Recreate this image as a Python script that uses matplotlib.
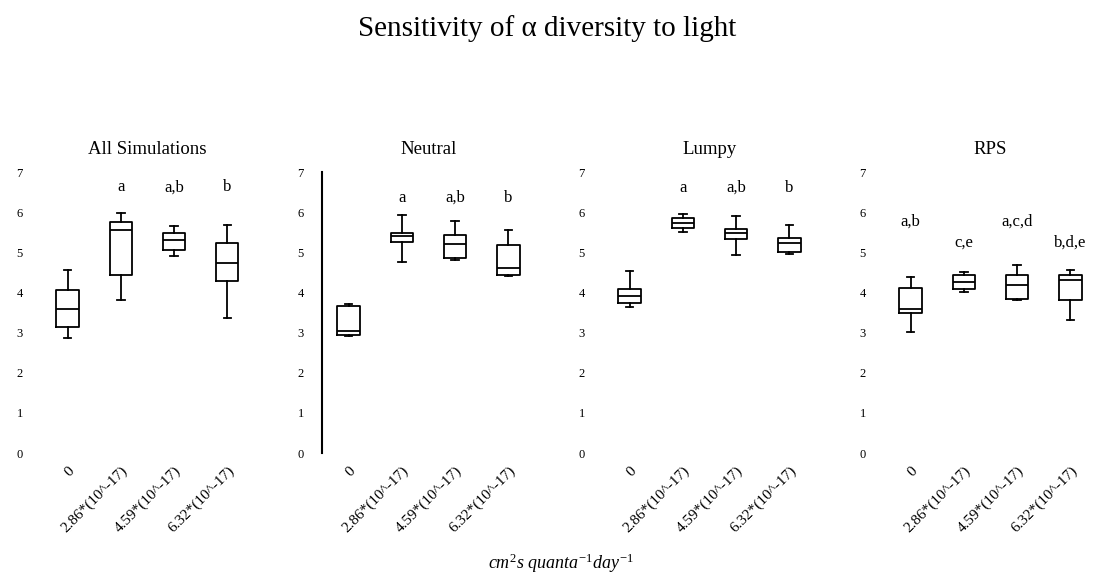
import matplotlib
matplotlib.use("Agg")
import matplotlib.pyplot as plt

plt.rcParams['font.family'] = ['Liberation Serif', 'DejaVu Serif']
plt.rcParams['mathtext.fontset'] = 'custom'
plt.rcParams['mathtext.rm'] = 'Liberation Serif'
plt.rcParams['mathtext.it'] = 'Liberation Serif:italic'

panels = ["All Simulations", "Neutral", "Lumpy", "RPS"]
light_levels = ["0", "2.86*(10^-17)", "4.59*(10^-17)", "6.32*(10^-17)"]

# box summaries per light level: whisker low, q1, median, q3, whisker high
all_sims = [[2.87, 3.15, 3.60, 4.06, 4.56],
            [3.82, 4.44, 5.55, 5.76, 5.98],
            [4.90, 5.06, 5.30, 5.49, 5.65],
            [3.37, 4.29, 4.74, 5.24, 5.69]]
neutral = [[2.91, 2.95, 3.03, 3.67, 3.72],
           [4.76, 5.26, 5.40, 5.49, 5.93],
           [4.80, 4.86, 5.21, 5.44, 5.79],
           [4.40, 4.44, 4.60, 5.19, 5.56]]
lumpy = [[3.65, 3.74, 3.90, 4.09, 4.54],
         [5.50, 5.61, 5.74, 5.86, 5.95],
         [4.94, 5.34, 5.49, 5.59, 5.91],
         [4.95, 5.01, 5.24, 5.36, 5.69]]
rps = [[3.02, 3.49, 3.60, 4.11, 4.39],
       [4.00, 4.09, 4.25, 4.44, 4.50],
       [3.80, 3.84, 4.19, 4.44, 4.69],
       [3.32, 3.82, 4.30, 4.44, 4.56]]

# significance groups and the height they are written at
letters = [["", "a", "a,b", "b"],
           ["", "a", "a,b", "b"],
           ["", "a", "a,b", "b"],
           ["a,b", "c,e", "a,c,d", "b,d,e"]]
letter_y = [[6.62, 6.62, 6.62, 6.62],
            [6.36, 6.36, 6.36, 6.36],
            [6.60, 6.60, 6.60, 6.60],
            [5.76, 5.24, 5.76, 5.24]]

data = [all_sims, neutral, lumpy, rps]

fig = plt.figure(figsize=(10.95, 5.82), dpi=100)
fig.suptitle("Sensitivity of α diversity to light", fontsize=21, y=0.975)

lefts = [0.0374, 0.2941, 0.5507, 0.8073]
for i in range(4):
    ax = fig.add_axes([lefts[i], 0.2216, 0.1945, 0.4828])
    stats = []
    for j, s in enumerate(data[i]):
        stats.append({'whislo': s[0], 'q1': s[1], 'med': s[2], 'q3': s[3],
                      'whishi': s[4], 'label': light_levels[j]})
    line = dict(color='black', linewidth=1.3)
    ax.bxp(stats, positions=[1, 2, 3, 4], widths=0.42, showfliers=False,
           boxprops=line, whiskerprops=line, capprops=line,
           medianprops=line, capwidths=0.14)
    for j in range(4):
        ax.text(j + 1, letter_y[i][j], letters[i][j], ha='center',
                va='center', fontsize=12)
    ax.set_xlim(0.5, 4.5)
    ax.set_ylim(0, 7)
    ax.set_yticks(range(8))
    ax.set_title(panels[i], fontsize=13.5, pad=13)
    ax.set_xticks([1, 2, 3, 4])
    ax.set_xticklabels(light_levels, rotation=45, ha='right',
                       rotation_mode='anchor', fontsize=11)
    ax.tick_params(length=0)
    ax.tick_params(axis='y', pad=13, labelsize=9)
    ax.tick_params(axis='x', pad=8)
    for side in ['top', 'right', 'bottom', 'left']:
        ax.spines[side].set_visible(False)
    if panels[i] == "Neutral":
        ax.spines['left'].set_visible(True)
        ax.spines['left'].set_linewidth(1.5)

fig.text(0.512, 0.022, r"$cm^{2} s\ quanta^{-1} day^{-1}$", ha='center',
         fontsize=13)

fig.savefig("out.png", dpi=100)
